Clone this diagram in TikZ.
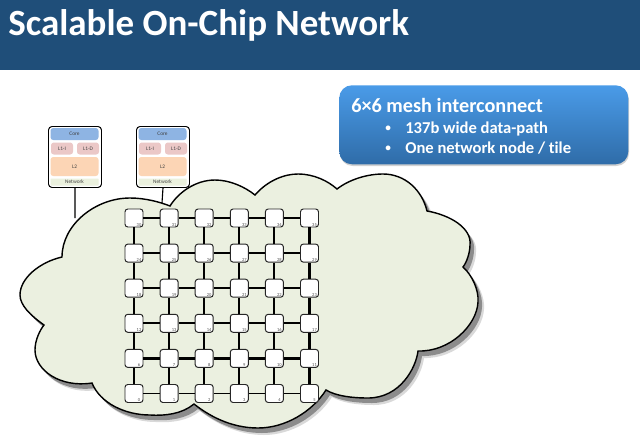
\documentclass[tikz,border=0pt]{standalone}
\usepackage{fontspec}
\setmainfont{Carlito}[Ligatures=CommonOff]
\usetikzlibrary{shadows,fadings}

\definecolor{headblue}{HTML}{1F4E79}
\definecolor{cloudfill}{HTML}{EBF0E0}
\definecolor{coreblue}{HTML}{8EB4E3}
\definecolor{cachepink}{HTML}{EBC8C7}
\definecolor{ltwopeach}{HTML}{FCD5B5}
\definecolor{netgreen}{HTML}{EBF1DE}
\definecolor{calltop}{HTML}{4A9BE8}
\definecolor{callbot}{HTML}{2F6CA8}

\newcommand{\cloudpath}{(170,206) .. controls (178,193) and (195,180) .. (215,180) .. controls (230,180) and (245,187) .. (255,195)
  .. controls (268,180) and (285,174) .. (298,174) .. controls (314,174) and (328,181) .. (337,189)
  .. controls (350,179) and (368,174) .. (383,174) .. controls (405,174) and (422,190) .. (427,211)
  .. controls (450,215) and (472,228) .. (470,245) .. controls (470,252) and (467,262) .. (463,267)
  .. controls (472,275) and (479,290) .. (478,302) .. controls (477,325) and (450,352) .. (418,351)
  .. controls (416,368) and (400,398) .. (368,398) .. controls (352,398) and (336,396) .. (326,390)
  .. controls (312,412) and (285,428) .. (258,428) .. controls (230,428) and (208,415) .. (194,404)
  .. controls (182,414) and (165,416) .. (150,415) .. controls (125,415) and (100,403) .. (92,383)
  .. controls (60,388) and (35,370) .. (35,350) .. controls (35,340) and (40,330) .. (44,325)
  .. controls (30,315) and (20,305) .. (20,295) .. controls (20,278) and (40,262) .. (62,257)
  .. controls (62,225) and (95,198) .. (130,198) .. controls (145,198) and (160,202) .. (170,206) -- cycle}

\begin{document}
\begin{tikzpicture}[
    x=0.025cm, y=-0.025cm,
    tilebox/.style={draw, fill=white, line width=0.7pt, rounded corners=2.5pt, minimum width=53*0.025cm, minimum height=61*0.025cm},
    part/.style={rounded corners=2pt, inner sep=0pt, font=\fontsize{3.8}{4}\selectfont, text=black!75},
    router/.style={draw=black!85, fill=white, line width=0.7pt, rounded corners=2pt, minimum size=18*0.025cm, inner sep=0pt},
    routernum/.style={font=\fontsize{3.2}{3.5}\selectfont, text=black!70, inner sep=0pt},
    uplink/.style={line width=0.8pt},
    bulletline/.style={anchor=base west, inner sep=0pt, text=white, font=\fontsize{11.8}{14}\selectfont\bfseries},
]
    \useasboundingbox (0,0) rectangle (640,443);

    % Header
    \node[fill=headblue, draw=none, minimum width=16cm, minimum height=70*0.025cm, inner sep=0pt, anchor=north west] (header) at (0,0) {};
    \node[anchor=base west, inner sep=0pt, text=white, font=\fontsize{26.3}{30}\selectfont\bfseries] (title) at (8,35) {Scalable On-Chip Network};

    % Cloud
    \fill[black!15, shift={(6,7)}] \cloudpath;
    \fill[black!45, shift={(4,5)}] \cloudpath;
    \draw[fill=cloudfill, line width=1pt] \cloudpath;
    \coordinate (cloudA) at (75,218);
    \coordinate (cloudB) at (162,203);

    % Tiles
    \foreach \tx/\tn in {48/A,136/B} {
        \node[tilebox, anchor=north west] (tile\tn) at (\tx,126) {};
        \node[part, fill=coreblue, minimum width=48*0.025cm, minimum height=12*0.025cm] (core\tn) at (\tx+26.5,134) {Core};
        \node[part, fill=cachepink, minimum width=22*0.025cm, minimum height=12*0.025cm] (icache\tn) at (\tx+14,148.5) {L1-I};
        \node[part, fill=cachepink, minimum width=22*0.025cm, minimum height=12*0.025cm] (dcache\tn) at (\tx+40,148.5) {L1-D};
        \node[part, fill=ltwopeach, minimum width=48*0.025cm, minimum height=19*0.025cm] (ltwo\tn) at (\tx+26.5,166.5) {L2};
        \node[part, fill=netgreen, rounded corners=0.5pt, minimum width=48*0.025cm, minimum height=7*0.025cm] (net\tn) at (\tx+26.5,182) {Network};
        \draw[uplink] (tile\tn.south) -- (cloud\tn);
    }

    % Routers
    \foreach \row in {0,...,5} {
        \foreach \col in {0,...,5} {
            \pgfmathtruncatemacro{\num}{\row*6+\col}
            \node[router] (r\num) at (134+35.1*\col,393.5-35.1*\row) {};
            \node[routernum] (n\num) at (139+35.1*\col,400.5-35.1*\row) {\num};
        }
    }

    % Horizontal links
    \foreach \row/\wd in {0/1.4pt,1/1.8pt,2/1.2pt,3/1.2pt,4/1.8pt,5/1.2pt} {
        \foreach \col in {0,...,4} {
            \pgfmathtruncatemacro{\from}{\row*6+\col}
            \pgfmathtruncatemacro{\to}{\from+1}
            \draw[line width=\wd] (r\from) -- (r\to);
        }
    }
    % Vertical links
    \foreach \col/\wd in {0/1.8pt,1/1.3pt,2/1.3pt,3/1.3pt,4/1.3pt,5/1.8pt} {
        \foreach \row in {0,...,4} {
            \pgfmathtruncatemacro{\from}{\row*6+\col}
            \pgfmathtruncatemacro{\to}{\from+6}
            \draw[line width=\wd] (r\from) -- (r\to);
        }
    }

    % Callout
    \fill[black!18, rounded corners=9pt] (340,87) rectangle (629,166);
    \node[rounded corners=9pt, top color=calltop, bottom color=callbot, minimum width=289*0.025cm, minimum height=79*0.025cm, anchor=north west, inner sep=0pt] (callout) at (339,85) {};
    \node[anchor=base west, inner sep=0pt, text=white, font=\fontsize{14.4}{16}\selectfont\bfseries] (calltitle) at (351,112) {6×6 mesh interconnect};
    \node[bulletline, font=\fontsize{8}{14}\selectfont\bfseries] (dotA) at (385,131.5) {•};
    \node[bulletline] (lineA) at (405,133) {137b wide data-path};
    \node[bulletline, font=\fontsize{8}{14}\selectfont\bfseries] (dotB) at (385,151.5) {•};
    \node[bulletline] (lineB) at (405,153) {One network node / tile};
\end{tikzpicture}
\end{document}
